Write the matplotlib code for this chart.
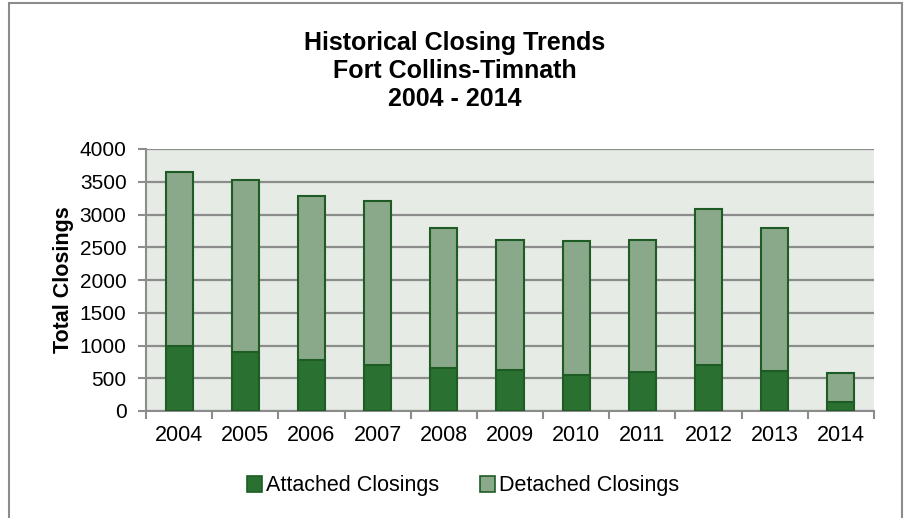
import matplotlib
matplotlib.use("Agg")
import matplotlib.pyplot as plt
import numpy as np
from matplotlib.patches import Rectangle, Patch

years = ["2004", "2005", "2006", "2007", "2008", "2009", "2010", "2011", "2012", "2013", "2014"]
attached = [985, 904, 772, 700, 650, 624, 553, 599, 695, 609, 132]
detached = [2665, 2624, 2517, 2513, 2137, 1985, 2046, 2010, 2386, 2178, 447]
yticks = [0, 500, 1000, 1500, 2000, 2500, 3000, 3500, 4000]

plt.rcParams['font.family'] = ['Liberation Sans', 'DejaVu Sans']

W, H = 905, 518
fig = plt.figure(figsize=(W / 100, H / 100), dpi=100)
fig.patch.set_facecolor('white')

# outer chart frame
fig.patches.append(Rectangle((9 / W, -0.1), (902 - 9) / W, 1 - 3 / H + 0.1,
                             transform=fig.transFigure, fill=False,
                             edgecolor='#8c8c8c', linewidth=1.5))

left, right, top, bottom = 146, 874, 149, 411
ax = fig.add_axes([left / W, 1 - bottom / H, (right - left) / W, (bottom - top) / H])
ax.set_facecolor('#e6ebe5')

x = np.arange(len(years))
bw = 0.41
ax.bar(x, attached, width=bw, color='#2a7031', edgecolor='#1f5c25', linewidth=1.5,
       label='Attached Closings', zorder=3)
ax.bar(x, detached, width=bw, bottom=attached, color='#8aa98a', edgecolor='#1f5c25',
       linewidth=1.5, label='Detached Closings', zorder=3)

ax.set_xlim(-0.5, len(years) - 0.5)
ax.set_ylim(0, 4000)
ax.set_yticks(yticks)
ax.set_yticklabels([str(v) for v in yticks], fontsize=15)
ax.yaxis.grid(True, color='#8c8c8c', linewidth=1.6, zorder=0)
ax.set_axisbelow(True)

ax.set_xticks(x)
ax.set_xticklabels(years, fontsize=15.5)
ax.set_xticks(np.arange(-0.5, len(years)), minor=True)
ax.tick_params(axis='x', which='major', length=0, pad=10)
ax.tick_params(axis='x', which='minor', length=6, width=1.5, color='#8c8c8c', direction='out')
ax.tick_params(axis='y', length=6, width=1.5, color='#8c8c8c', direction='out', pad=8)

for s in ['top', 'right']:
    ax.spines[s].set_visible(False)
for s in ['left', 'bottom']:
    ax.spines[s].set_color('#8c8c8c')
    ax.spines[s].set_linewidth(1.5)

ax.set_ylabel('Total Closings', fontsize=15.5, fontweight='bold', labelpad=4)

fig.text(455 / W, 1 - 71 / H, 'Historical Closing Trends\nFort Collins-Timnath\n2004 - 2014',
         ha='center', va='center', fontsize=18, fontweight='bold', linespacing=1.22)

handles = [Patch(facecolor='#2a7031', edgecolor='#1f5c25', linewidth=1.2),
           Patch(facecolor='#8aa98a', edgecolor='#1f5c25', linewidth=1.2)]
fig.legend(handles, ['Attached Closings', 'Detached Closings'], loc='center',
           bbox_to_anchor=(463 / W, 1 - 486 / H), ncol=2, frameon=False, fontsize=15.5,
           handlelength=0.7, handleheight=0.7, handletextpad=0.2, columnspacing=1.9)

fig.savefig('out.png', dpi=100, facecolor='white')
